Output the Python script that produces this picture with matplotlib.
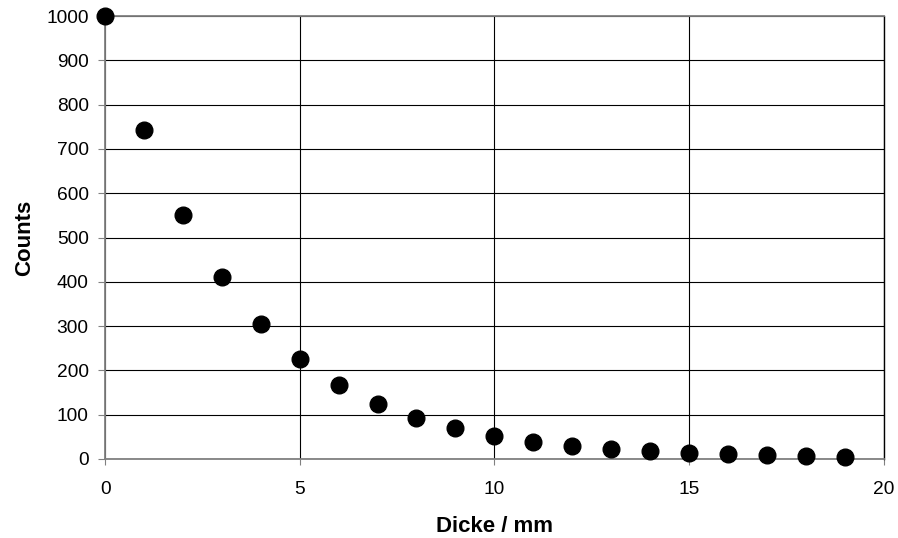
import matplotlib.pyplot as plt

plt.rcParams['font.family'] = ['Liberation Sans', 'DejaVu Sans']

dicke = [0, 1, 2, 3, 4, 5, 6, 7, 8, 9, 10, 11, 12, 13, 14, 15, 16, 17, 18, 19]
counts = [1000, 743, 552, 410, 304, 226, 168, 125, 93, 70,
          52, 39, 30, 22, 17, 13, 10, 8, 7, 5]

fig = plt.figure(figsize=(8.98, 5.38), dpi=100)
ax = fig.add_axes([0.117, 0.147, 0.867, 0.823])

ax.plot(dicke, counts, 'o', color='black', ms=12, clip_on=False, zorder=5)

ax.set_xlim(0, 20)
ax.set_ylim(0, 1000)
ax.set_xticks([0, 5, 10, 15, 20])
ax.set_yticks(range(0, 1001, 100))
ax.grid(True, color='black', linewidth=0.8)
ax.tick_params(axis='y', labelsize=13.8, length=5, width=0.8, color='#808080', pad=6.8)
ax.tick_params(axis='x', labelsize=13.8, length=4.5, width=0.8, color='#808080', pad=11.5)
for s in ['left', 'bottom', 'top']:
    ax.spines[s].set_color('#808080')
    ax.spines[s].set_linewidth(1.3)
ax.spines['right'].set_linewidth(1.0)

ax.set_xlabel('Dicke / mm', fontsize=16, fontweight='bold', labelpad=13)
ax.set_ylabel('Counts', fontsize=16, fontweight='bold', labelpad=8)

plt.savefig('out.png', dpi=100)
